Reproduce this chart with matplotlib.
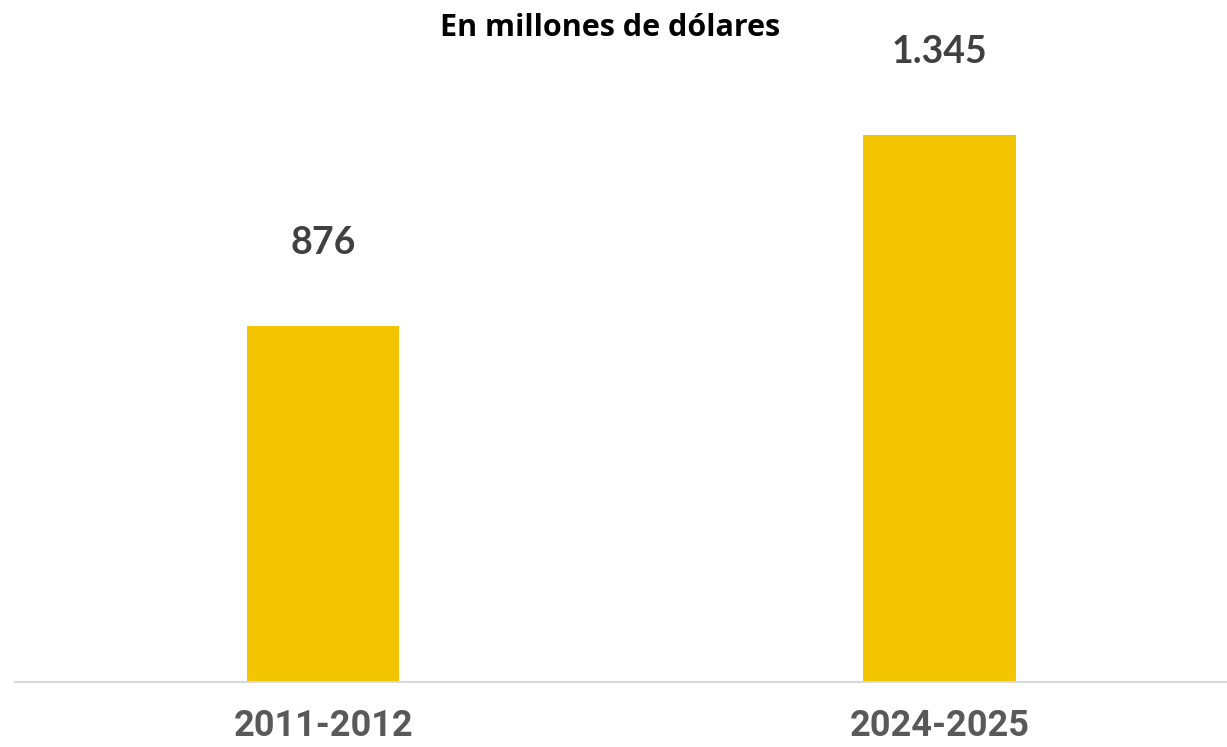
import matplotlib
matplotlib.use('Agg')
import matplotlib.pyplot as plt

periods = ['2011-2012', '2024-2025']
values = [876, 1345]
value_labels = ['876', '1.345']

BAR_COLOR = '#F2C500'
VALUE_COLOR = '#404040'
TICK_COLOR = '#595959'

fig = plt.figure(figsize=(12.27, 7.47), dpi=100)
ax = fig.add_axes([15 / 1227, 1 - 682 / 747, 1 - 15 / 1227, 682 / 747])

x = list(range(len(periods)))
bars = ax.bar(x, values, width=0.248, color=BAR_COLOR)

for rect, lab in zip(bars, value_labels):
    ax.annotate(lab, (rect.get_x() + rect.get_width() / 2, rect.get_height()),
                xytext=(0, 66), textcoords='offset pixels',
                ha='center', va='bottom', fontsize=27, fontweight='bold',
                family='Lato', color=VALUE_COLOR)

ax.set_xlim(-0.5, 1.467)
ax.set_ylim(0, 1676)
ax.set_xticks(x)
ax.set_xticklabels(periods, fontsize=26, fontweight='bold', family='Roboto', color=TICK_COLOR)
ax.tick_params(axis='x', length=0, pad=19)
ax.set_yticks([])
for side in ['top', 'left', 'right']:
    ax.spines[side].set_visible(False)
ax.spines['bottom'].set_color('#D9D9D9')
ax.spines['bottom'].set_linewidth(1.5)

# title baseline sits ~36px from the top
fig.text(610 / 1227, 1 - 36 / 747, 'En millones de dólares', ha='center', va='baseline',
         fontsize=22, fontweight='bold', family='Open Sans', color='black')

fig.savefig('out.png', dpi=100)
